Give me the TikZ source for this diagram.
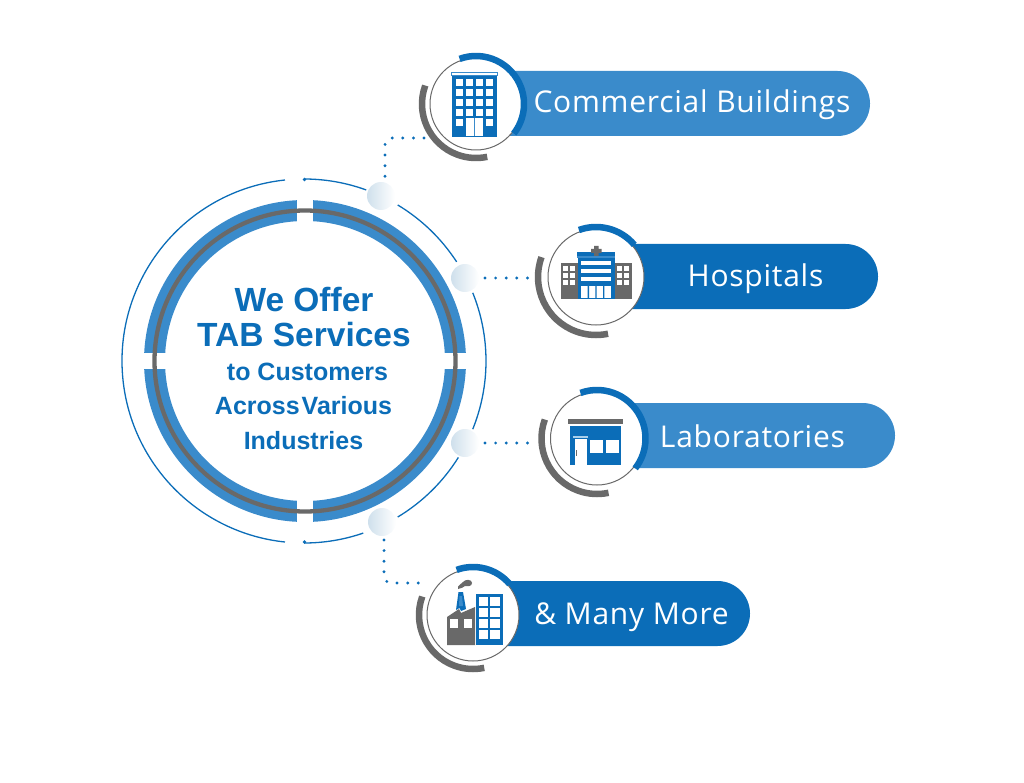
\documentclass[tikz,border=0pt]{standalone}
\usepackage{fontspec}
\setmainfont{Open Sans}[LetterSpace=2.5]
\newfontfamily\boldsans{Liberation Sans}[BoldFont={Liberation Sans Bold}]
\usetikzlibrary{shadings}
\definecolor{dkblue}{HTML}{0B6DB8}
\definecolor{ltblue}{HTML}{3A8BCB}
\definecolor{greyc}{HTML}{696969}
\definecolor{bubc}{HTML}{CFE0EC}
\definecolor{paleb}{HTML}{A9CFEA}
\tikzset{
  x=1pt,y=1pt,
  thinarc/.style={draw=dkblue,line width=1.3pt},
  bubble/.style={circle,minimum size=28pt,inner sep=0pt,left color=bubc,right color=white},
  ring/.style={circle,minimum size=92pt,inner sep=0pt,fill=white,draw=greyc,line width=1pt},
  dotline/.style={draw=dkblue,line width=3.2pt,line cap=round,dash pattern=on 0pt off 10.6pt,rounded corners=7pt},
  pilllabel/.style={text=white,font=\fontsize{30}{30}\selectfont,inner sep=0pt,anchor=base},
  bluearc/.style={draw=dkblue,line width=6.5pt},
  greyarc/.style={draw=greyc,line width=6.5pt},
  centertext/.style={text=dkblue,align=center,inner sep=0pt,anchor=base}
}
\newcommand{\pillshape}[5]{% x0,x1,ytop,ybot,color
  \fill[#5] (#1,-#3) -- (#2-32.5,-#3) arc[start angle=90,end angle=-90,radius=32.5] -- (#1,-#4) -- cycle;}
\newcommand{\wb}[4]{\fill[white] (#1,-#2) rectangle (#3,{-(#4)});}
\begin{document}
\begin{tikzpicture}
\useasboundingbox (0,-783) rectangle (1024,0);
% thick ring
\fill[ltblue,even odd rule] (305,-361) circle[radius=161] (305,-361) circle[radius=140];
\fill[white] (297,-190) rectangle (313,-530);
\fill[white] (130,-353) rectangle (480,-369);
\draw[greyc,line width=4.3pt] (305,-361) circle[radius=150.5];
% thin outer arcs
\coordinate (cc) at (304,-361);
\draw[thinarc] (cc) ++(96:182) arc[start angle=96,end angle=264,radius=182];
\draw[thinarc] (cc) ++(90:182) arc[start angle=90,end angle=70,radius=182];
\draw[thinarc] (cc) ++(59:182) arc[start angle=59,end angle=33,radius=182];
\draw[thinarc] (cc) ++(22:182) arc[start angle=22,end angle=-22,radius=182];
\draw[thinarc] (cc) ++(-32:182) arc[start angle=-32,end angle=-59,radius=182];
\draw[thinarc] (cc) ++(-71:182) arc[start angle=-71,end angle=-90,radius=182];
\fill[dkblue] (304.5,-179.5) circle[radius=1.8];
\fill[dkblue] (304.5,-542) circle[radius=1.8];
% bubbles
\node[bubble] (bub1) at (381,-196) {};
\node[bubble] (bub2) at (465,-278) {};
\node[bubble] (bub3) at (465,-443) {};
\node[bubble] (bub4) at (382,-522) {};
% pills
\pillshape{500}{870}{71}{136}{ltblue}
\pillshape{620}{878}{244}{309}{dkblue}
\pillshape{620}{895}{403}{468}{ltblue}
\pillshape{500}{750}{581}{646}{dkblue}
% icon rings
\node[ring] (icon1) at (476,-104) {};
\node[ring,minimum size=96pt] (icon2) at (596,-277) {};
\node[ring,minimum size=93pt] (icon3) at (597,-438.5) {};
\node[ring] (icon4) at (473,-615) {};
% arcs
\draw[bluearc] (icon1) ++(110:48) arc[start angle=110,end angle=-38,radius=48];
\draw[greyarc] (icon1) ++(160:54) arc[start angle=160,end angle=282,radius=54];
\draw[bluearc] (icon2) ++(110:50) arc[start angle=110,end angle=40,radius=50];
\draw[greyarc] (icon2) ++(160:58) arc[start angle=160,end angle=282,radius=58];
\draw[bluearc] (icon3) ++(110:48.5) arc[start angle=110,end angle=-38,radius=48.5];
\draw[greyarc] (icon3) ++(160:55.5) arc[start angle=160,end angle=282,radius=55.5];
\draw[bluearc] (icon4) ++(110:48) arc[start angle=110,end angle=40,radius=48];
\draw[greyarc] (icon4) ++(160:54) arc[start angle=160,end angle=282,radius=54];
% dotted connectors
\coordinate (d1a) at (385,-179);
\coordinate (d1b) at (424,-138);
\coordinate (d4a) at (384,-540);
\coordinate (d4b) at (421,-583);
\draw[dotline] (d1b) -| (d1a);
\draw[dotline] (d4a) |- (d4b);
\draw[dotline,shorten <=20pt,shorten >=67pt] (bub2.center) -- (bub2.center -| icon2);
\draw[dotline,shorten <=20pt,shorten >=67pt] (bub3.center) -- (bub3.center -| icon3);
% Commercial icon
\fill[dkblue] (452,-76) rectangle (497,-137);
\fill[ltblue] (451,-72) rectangle (498,-76.5);
\fill[white] (452,-73) rectangle (497,-75.5);
\foreach \yy in {79,89,99,109} \foreach \xx in {456,466,476,486} {\wb{\xx}{\yy}{\xx+6.6}{\yy+6.6}}
\wb{456}{119}{462.6}{125.6}
\wb{486}{119}{492.6}{125.6}
\wb{465.7}{118.5}{482.7}{136}
\fill[ltblue] (473.7,-118.5) rectangle (474.7,-136);
% Hospital icon
\fill[greyc] (560.5,-263) rectangle (632,-299);
\foreach \xx in {563,570,617,624} \foreach \yy in {266,273,280} {\wb{\xx}{\yy}{\xx+5}{\yy+4.6}}
\fill[dkblue] (578,-258) rectangle (614.5,-299);
\fill[ltblue] (577,-252.5) rectangle (615,-258);
\fill[dkblue] (577,-252.5) rectangle (615,-256.5);
\fill[greyc] (594,-246) rectangle (598.5,-256) (591,-249) rectangle (601.5,-253);
\foreach \yy in {261,269,277} {\wb{581}{\yy}{611}{\yy+4}}
\wb{581}{286}{611}{298}
\fill[dkblue] (587.7,-286) rectangle (589,-298) (595.4,-286) rectangle (596.6,-298) (603,-286) rectangle (604.3,-298);
% Lab icon
\fill[greyc] (568,-419) rectangle (622.5,-424);
\fill[dkblue] (570,-426) rectangle (620.5,-465);
\wb{574.5}{439}{587}{465}
\fill[paleb] (573,-436) rectangle (588,-438);
\fill[greyc] (575.8,-450) rectangle (577.2,-456);
\wb{590}{440}{603}{453}
\wb{606}{440}{618.5}{453}
% Many icon
\fill[dkblue] (476,-594) rectangle (503,-645);
\foreach \yy in {597,608,619,630} {\wb{479.3}{\yy}{488.3}{\yy+8.6}\wb{490}{\yy}{499.5}{\yy+8.6}}
\fill[greyc] (447,-645) -- (447,-617) -- (459,-609) -- (461,-613) -- (475,-607) -- (475,-645) -- cycle;
\wb{449.5}{619}{457.5}{627.5}
\wb{463.5}{619}{472}{627.5}
\fill[dkblue] (458.5,-592) -- (463,-592) -- (466,-609) -- (461,-611) -- (459.5,-608) -- (456,-610) -- cycle;
\fill[ltblue] (459.5,-596) -- (462,-596) -- (463,-606) -- (459,-606) -- cycle;
\fill[greyc] (458,-589) .. controls (457,-585) and (461,-585) .. (463,-582) .. controls (465,-579) and (472,-579) .. (472,-583) .. controls (472,-587) and (467,-586) .. (465,-586) .. controls (463,-587) and (461,-589) .. (458,-589) -- cycle;
% labels
\node[pilllabel] (t1) at (692,-113) {Commercial Buildings};
\node[pilllabel] (t2) at (755.5,-287) {Hospitals};
\node[pilllabel] (t3) at (752.5,-447) {Laboratories};
\node[pilllabel] (t4) at (631.5,-624) {\& Many More};
% center text
\node[centertext,font=\boldsans\bfseries\fontsize{33.5}{33.5}\selectfont] (c1) at (304,-311) {We Offer};
\node[centertext,font=\boldsans\bfseries\fontsize{33.5}{33.5}\selectfont] (c2) at (304,-346) {TAB Services};
\node[centertext,font=\boldsans\bfseries\fontsize{25}{25}\selectfont] (c3) at (307.5,-380) {to Customers};
\node[centertext,font=\boldsans\bfseries\fontsize{25}{25}\selectfont] (c4) at (303.5,-414) {Across\hspace{2pt}Various};
\node[centertext,font=\boldsans\bfseries\fontsize{25}{25}\selectfont] (c5) at (303.5,-449) {Industries};
\end{tikzpicture}
\end{document}
